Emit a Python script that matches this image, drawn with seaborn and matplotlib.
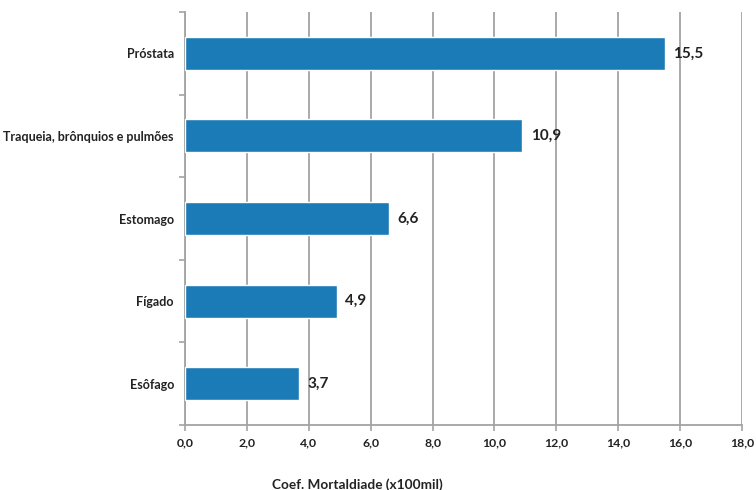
import matplotlib
matplotlib.use("Agg")
import matplotlib.pyplot as plt
import seaborn as sns
import pandas as pd
import numpy as np

# Mortality coefficients per cancer site
categorias = ["Próstata", "Traqueia, brônquios e pulmões", "Estomago", "Fígado", "Esôfago"]
valores = [15.5, 10.9, 6.6, 4.9, 3.7]
ticks_x = [0, 2, 4, 6, 8, 10, 12, 14, 16, 18]
rotulo_x = "Coef. Mortaldiade (x100mil)"

sns.set_theme(style="white")
plt.rcParams["font.family"] = ["Lato", "DejaVu Sans"]

df = pd.DataFrame({"categoria": categorias, "valor": valores})

fig = plt.figure(figsize=(7.56, 4.90), dpi=100)
ax = fig.add_axes([185 / 756, 1 - 425 / 490, (742 - 185) / 756, (425 - 12) / 490])

sns.barplot(data=df, x="valor", y="categoria", orient="h", color="#1b7bb7",
            saturation=1, width=0.4, ax=ax, zorder=3)

grid_color = "#a3a3a3"
ax.set_xlim(0, 18)
ax.set_ylim(len(categorias) - 0.5, -0.5)
ax.set_xticks(ticks_x)
ax.set_xticklabels([f"{t:.1f}".replace(".", ",") for t in ticks_x],
                   fontsize=8.8, fontweight="bold", color="#222222")
ax.xaxis.grid(True, color=grid_color, linewidth=1.3, zorder=0)
ax.set_axisbelow(True)

# Category labels without ticks; tick marks at category boundaries
ax.set_yticks(range(len(categorias)))
ax.set_yticklabels(categorias, fontsize=9, fontweight="bold", color="#222222")
ax.tick_params(axis="y", length=0, pad=8)
ax.set_yticks(np.arange(-0.5, len(categorias), 1), minor=True)
ax.tick_params(axis="y", which="minor", length=4, width=1.2, color=grid_color, direction="out", left=True)
ax.tick_params(axis="x", length=4, width=1.2, color=grid_color, direction="out", bottom=True, pad=5)

for side in ["top", "right"]:
    ax.spines[side].set_visible(False)
for side in ["left", "bottom"]:
    ax.spines[side].set_color(grid_color)
    ax.spines[side].set_linewidth(1.3)

ax.set_xlabel("")
ax.set_ylabel("")

for i, v in enumerate(valores):
    ax.annotate(f"{v:.1f}".replace(".", ","), xy=(v, i), xytext=(6, 0),
                textcoords="offset points", va="center", ha="left",
                fontsize=11, fontweight="bold", color="#222222", zorder=4)

fig.text(357 / 756, 1 - 485 / 490, rotulo_x, ha="center", va="center",
         fontsize=9.8, fontweight="bold", color="#222222")

fig.savefig("out.png", dpi=100, facecolor="white")
